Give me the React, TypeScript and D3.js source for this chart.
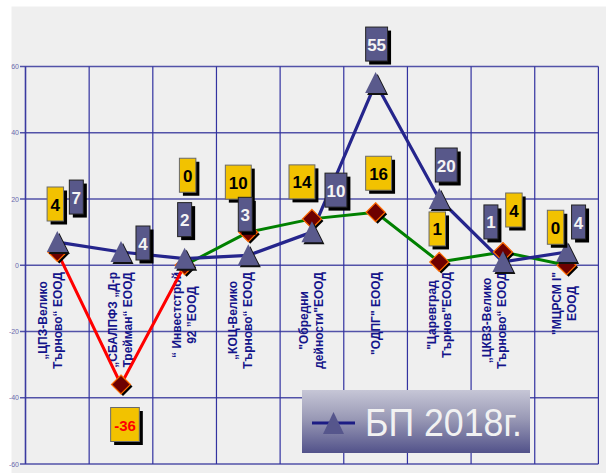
import React from "react";
import * as d3 from "d3";

const categories: string[][] = [
  ["„ЦПЗ-Велико", "Търново“ ЕООД"],
  ["„СБАЛПФЗ „Д-р", "Треймaн“ ЕООД"],
  ["“ Инвестстрой", "92 ”ЕООД"],
  ["„КОЦ-Велико", "Търново“ ЕООД"],
  ["\"Обредни", "дейности\"ЕООД"],
  ["\"ОДПГ\" ЕООД"],
  ["\"Царевград", "Търнов\"ЕООД"],
  ["„ЦКВЗ-Велико", "Търново“ ЕООД"],
  ["\"МЦРСМ I\"", "ЕООД"],
];
const bp2018: number[] = [7, 4, 2, 3, 10, 55, 20, 1, 4];
const otchet: number[] = [4, -36, 0, 10, 14, 16, 1, 4, 0];
const yTicks: number[] = [-60, -40, -20, 0, 20, 40, 60];
const legendLabel = "БП 2018г.";

// layout-only arrays (pixel offsets of the value boxes relative to their point)
const bpLabelOffset: [number, number][] = [[19, -45], [22, -9], [0, -39], [-3, -41], [24, -42], [1, -39], [7, -34], [-12, -40], [12, -30]];
const otLabelOffset: [number, number][] = [[-2, -48], [4, 40], [3, -90], [-10, -50], [-10, -37], [3, -39], [-2, -33], [11, -42], [-11, -38]];
const catLabelDx: number[] = [-7, 0, 0, -8, 0, 0, 0, -8, -2];

const W = 606, H = 473;
const FONT = "'Liberation Sans', Arial, sans-serif";

let ctx: CanvasRenderingContext2D | null = null;
function measure(text: string, font: string): number {
  if (!ctx) ctx = document.createElement("canvas").getContext("2d");
  if (!ctx) return text.length * 7;
  ctx.font = font;
  return ctx.measureText(text).width;
}

export default function App() {
  const x = d3.scaleBand<number>().domain(d3.range(categories.length)).range([25.5, 598.4]);
  const y = d3.scaleLinear().domain([-60, 60]).range([464, 66.5]);
  const cx = (i: number) => (x(i) as number) + x.bandwidth() / 2;

  const blueLine = d3.line<number>().x((_, i) => cx(i)).y((d) => y(d))(bp2018) as string;

  const triPath = "M0,-11L10.5,10L-10.5,10Z";
  const diaPath = "M0,-9.5L9.5,0L0,9.5L-9.5,0Z";

  const valueBox = (key: string, px: number, py: number, text: string, kind: "blue" | "yellow" | "neg") => {
    const fontSize = kind === "neg" ? 15 : 17;
    const tw = measure(text, `bold ${fontSize}px ${FONT}`);
    const w = kind === "blue" ? Math.max(14, tw + 3) : Math.max(13, tw + 7);
    const h = 34;
    const fill = kind === "blue" ? "#58588a" : "#f2c200";
    const tf = kind === "blue" ? "#f4f4f4" : kind === "neg" ? "#ff0000" : "#000000";
    return (
      <g key={key} transform={`translate(${px},${py})`}>
        <rect x={-w / 2 + 3.5} y={-h / 2 + 3.5} width={w} height={h} fill="#000" />
        <rect x={-w / 2} y={-h / 2} width={w} height={h} fill={fill} stroke={kind === "blue" ? "#222" : "#6a6a6a"} strokeWidth={1} />
        <text x={0} y={1} textAnchor="middle" dominantBaseline="central" fontFamily={FONT} fontWeight="bold" fontSize={fontSize} fill={tf}>
          {text}
        </text>
      </g>
    );
  };

  const catFont = `bold 12px ${FONT}`;

  return (
    <svg width={W} height={H} style={{ position: "absolute", left: 0, top: 0 }}>
      <defs>
        <linearGradient id="legGrad" x1="0" y1="0" x2="0" y2="1">
          <stop offset="0" stopColor="#c6c6d6" />
          <stop offset="0.45" stopColor="#9a9ab6" />
          <stop offset="1" stopColor="#52528a" />
        </linearGradient>
      </defs>
      <rect x={0} y={0} width={W} height={H} fill="#ffffff" />
      <rect x={11.5} y={6.5} width={W - 11.5} height={H - 6.5} fill="#efefef" />

      {/* horizontal grid */}
      {yTicks.map((t) => (
        <g key={"h" + t}>
          <line x1={20} x2={598.4} y1={y(t)} y2={y(t)} stroke="#5252a8" strokeWidth={1.6} />
          <text x={19} y={y(t)} textAnchor="end" dominantBaseline="central" fontFamily={FONT} fontSize={7} fill="#6a6aae">
            {t}
          </text>
        </g>
      ))}
      {/* vertical grid */}
      {d3.range(categories.length + 1).map((i) => {
        const xx = i < categories.length ? (x(i) as number) : x.range()[1];
        return <line key={"v" + i} x1={xx} x2={xx} y1={y(60)} y2={y(-60)} stroke={i === 0 ? "#3a3aa0" : "#3232a0"} strokeWidth={i === 0 ? 1.6 : 1.2} />;
      })}

      {/* category labels */}
      {categories.map((lines, i) => {
        const maxW = d3.max(lines, (l) => measure(l, catFont)) as number;
        const yc = 272 + maxW / 2;
        const bc = cx(i) + catLabelDx[i];
        return lines.map((l, j) => {
          const lx = bc + (j - (lines.length - 1) / 2) * 15;
          return (
            <text key={"c" + i + "_" + j} transform={`translate(${lx},${yc}) rotate(-90)`} textAnchor="middle" dominantBaseline="central" fontFamily={FONT} fontWeight="bold" fontSize={12} fill="#14148a">
              {l}
            </text>
          );
        });
      })}

      {/* second series line: red where negative, green otherwise */}
      {otchet.slice(1).map((v, k) => {
        const a = otchet[k];
        const neg = a < 0 || v < 0;
        return <line key={"s" + k} x1={cx(k)} y1={y(a)} x2={cx(k + 1)} y2={y(v)} stroke={neg ? "#ff0000" : "#008000"} strokeWidth={3} strokeLinecap="round" />;
      })}
      {/* blue line */}
      <path d={blueLine} fill="none" stroke="#25258c" strokeWidth={3.2} strokeLinejoin="round" />

      {/* diamonds */}
      {otchet.map((v, i) => (
        <g key={"d" + i} transform={`translate(${cx(i)},${y(v)})`}>
          <path d={diaPath} transform="translate(2,2)" fill="#000" />
          <path d={diaPath} fill="#6e0000" stroke="#ff6a00" strokeWidth={1.2} />
        </g>
      ))}
      {/* triangles */}
      {bp2018.map((v, i) => (
        <g key={"t" + i} transform={`translate(${cx(i)},${y(v)})`}>
          <path d={triPath} transform="translate(2,2)" fill="#111" />
          <path d={triPath} fill="#5a5a8c" />
        </g>
      ))}

      {/* value boxes */}
      {otchet.map((v, i) =>
        valueBox("ol" + i, cx(i) + otLabelOffset[i][0], y(v) + otLabelOffset[i][1], String(v), v < 0 ? "neg" : "yellow")
      )}
      {bp2018.map((v, i) => valueBox("bl" + i, cx(i) + bpLabelOffset[i][0], y(v) + bpLabelOffset[i][1], String(v), "blue"))}

      {/* legend */}
      <g transform="translate(302,390)">
        <rect x={0} y={0} width={228} height={63} fill="url(#legGrad)" />
        <line x1={10} x2={53} y1={33} y2={33} stroke="#1c1c84" strokeWidth={3} />
        <path d="M31.5,22L42,44L21,44Z" fill="#56568c" />
        <text x={63} y={33} dominantBaseline="central" fontFamily={FONT} fontSize={38} fill="#f2f2f2" textLength={157} lengthAdjust="spacingAndGlyphs">
          {legendLabel}
        </text>
      </g>
    </svg>
  );
}
